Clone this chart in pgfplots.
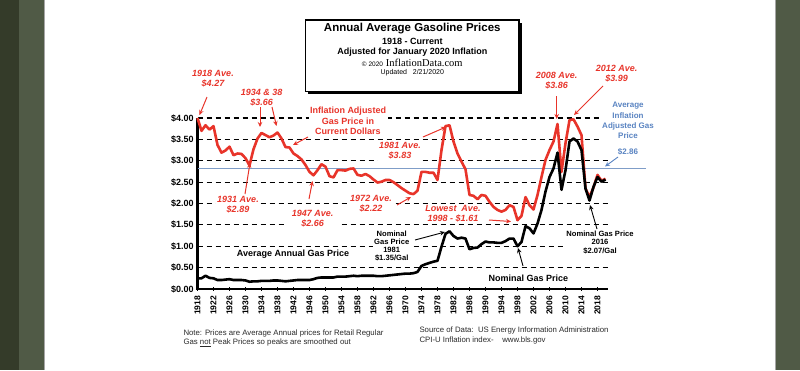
\documentclass[border=0pt]{standalone}
\usepackage{pgfplots}
\pgfplotsset{compat=1.18}
\usepackage{pgfplotstable}
\usetikzlibrary{arrows.meta}
\usepackage{fontspec}
\setmainfont{Liberation Sans}
\newfontfamily\seriffont{Liberation Serif}
\definecolor{gasred}{HTML}{E8342A}
\definecolor{avgblue}{HTML}{7F9DC8}
\definecolor{bluetext}{HTML}{5A84C2}
\definecolor{bgdark}{HTML}{343B29}
\definecolor{bgmid}{HTML}{505A46}
\definecolor{foot}{HTML}{2A2A2A}
\newcommand{\fs}[2]{\fontsize{#1}{#2}\selectfont}

\pgfplotstableread{
year price
1918 4.00
1919 3.70
1920 3.83
1921 3.73
1922 3.81
1923 3.37
1924 3.19
1925 3.24
1926 3.33
1927 3.13
1928 3.17
1929 3.16
1930 3.06
1931 2.89
1932 3.27
1933 3.52
1934 3.65
1935 3.60
1936 3.55
1937 3.59
1938 3.66
1939 3.52
1940 3.32
1941 3.31
1942 3.17
1943 3.11
1944 3.03
1945 2.90
1946 2.74
1947 2.66
1948 2.78
1949 2.92
1950 2.86
1951 2.64
1952 2.61
1953 2.78
1954 2.78
1955 2.77
1956 2.81
1957 2.82
1958 2.67
1959 2.65
1960 2.69
1961 2.64
1962 2.56
1963 2.49
1964 2.51
1965 2.55
1966 2.55
1967 2.50
1968 2.43
1969 2.36
1970 2.30
1971 2.24
1972 2.22
1973 2.30
1974 2.74
1975 2.74
1976 2.72
1977 2.72
1978 2.55
1979 3.25
1980 3.81
1981 3.83
1982 3.45
1983 3.17
1984 2.98
1985 2.80
1986 2.20
1987 2.18
1988 2.10
1989 2.20
1990 2.18
1991 2.04
1992 1.92
1993 1.85
1994 1.81
1995 1.85
1996 1.96
1997 1.92
1998 1.61
1999 1.71
2000 2.15
2001 1.96
2002 1.86
2003 2.20
2004 2.62
2005 3.02
2006 3.25
2007 3.45
2008 3.86
2009 2.74
2010 3.41
2011 3.95
2012 3.97
2013 3.80
2014 3.60
2015 2.35
2016 2.15
2017 2.38
2018 2.67
2019 2.53
2020 2.58
}\realtable

\pgfplotstableread{
year price
1918 0.25
1919 0.25
1920 0.31
1921 0.26
1922 0.25
1923 0.21
1924 0.21
1925 0.22
1926 0.23
1927 0.21
1928 0.21
1929 0.21
1930 0.20
1931 0.17
1932 0.18
1933 0.18
1934 0.19
1935 0.19
1936 0.19
1937 0.20
1938 0.20
1939 0.19
1940 0.18
1941 0.19
1942 0.20
1943 0.21
1944 0.21
1945 0.21
1946 0.21
1947 0.23
1948 0.26
1949 0.27
1950 0.27
1951 0.27
1952 0.27
1953 0.29
1954 0.29
1955 0.29
1956 0.30
1957 0.31
1958 0.30
1959 0.31
1960 0.31
1961 0.31
1962 0.31
1963 0.30
1964 0.30
1965 0.31
1966 0.32
1967 0.33
1968 0.34
1969 0.35
1970 0.36
1971 0.36
1972 0.37
1973 0.40
1974 0.54
1975 0.58
1976 0.61
1977 0.64
1978 0.66
1979 0.99
1980 1.29
1981 1.35
1982 1.24
1983 1.18
1984 1.20
1985 1.18
1986 0.93
1987 0.96
1988 0.97
1989 1.05
1990 1.11
1991 1.09
1992 1.09
1993 1.08
1994 1.08
1995 1.12
1996 1.18
1997 1.18
1998 1.00
1999 1.10
2000 1.47
2001 1.42
2002 1.30
2003 1.53
2004 1.85
2005 2.28
2006 2.62
2007 2.82
2008 3.19
2009 2.32
2010 2.78
2011 3.45
2012 3.52
2013 3.45
2014 3.25
2015 2.35
2016 2.07
2017 2.39
2018 2.62
2019 2.51
2020 2.56
}\nomtable

\begin{document}
\begin{tikzpicture}
\begin{scope}[x=1pt,y=-1pt]
\useasboundingbox (0,0) rectangle (800,370);
\fill[white] (0,0) rectangle (800,370);
\fill[bgdark] (0,0) rectangle (19,370);
\fill[bgmid] (19,0) rectangle (43.5,370);
\fill[bgmid] (775,0) rectangle (800,370);
\draw[black!35, line width=0.6pt] (43.8,0) -- (43.8,370);
\draw[black!35, line width=0.6pt] (775.2,0) -- (775.2,370);
% title box
\fill[black] (308.2,22.5) rectangle (521.5,94.2);
\filldraw[fill=white, draw=black, line width=1.2pt] (305.7,20) rectangle (519,91.7);
\end{scope}

\begin{axis}[
  at={(197.5pt,-289pt)}, anchor=south west,
  scale only axis, width=410pt, height=171pt,
  xmin=1918, xmax=2020.5, ymin=0, ymax=4,
  axis lines=left,
  axis line style={-, line width=2.2pt, black},
  clip=false,
  xtick={1918,1922,...,2018},
  minor x tick num=3,
  ytick={0,0.5,1,1.5,2,2.5,3,3.5,4},
  ymajorgrids,
  grid style={black, line width=1.1pt, dash pattern=on 5.5pt off 3.5pt},
  /pgf/number format/assume math mode=true,
  xticklabel style={rotate=90, anchor=east, font=\bfseries\fs{8.5}{9}, inner sep=1pt},
  xticklabel shift=4pt,
  xticklabel={\pgfmathprintnumber[1000 sep={}]{\tick}},
  yticklabel={\$\pgfmathprintnumber[fixed,fixed zerofill,precision=2]{\tick}},
  yticklabel style={font=\bfseries\fs{9}{9}, inner sep=2pt},
  tick style={black, line width=1pt},
  major tick length=3.5pt, minor tick length=3pt,
  tick align=center,
]
\draw[avgblue, line width=1.6pt] (axis cs:1918,2.82) -- (axis cs:2030,2.82);
\addplot[gasred, line width=2.6pt, line join=round] table[x=year,y=price] {\realtable};
\addplot[black, line width=2.6pt, line join=round] table[x=year,y=price] {\nomtable};
\end{axis}

\begin{scope}[x=1pt,y=-1pt,
  ann/.style={text=gasred, font=\bfseries\itshape\fs{9}{10}, align=center, fill=white, inner sep=1.5pt},
  rar/.style={gasred, line width=1pt, -{Stealth[length=5pt,width=4.5pt]}},
  bar/.style={black, line width=0.9pt, -{Stealth[length=5pt,width=4.5pt]}},
  nom/.style={text=black, font=\bfseries\fs{7.6}{8.2}, align=center, fill=white, inner sep=1.5pt}]
% title
\node[font=\bfseries\fs{11.5}{12}] at (412.3,29) {Annual Average Gasoline Prices};
\node[font=\bfseries\fs{9}{9}] at (412.3,41) {1918 - Current};
\node[font=\bfseries\fs{9}{9}] at (412.3,52) {Adjusted for January 2020 Inflation};
\node[font=\fs{10.5}{11}] at (412.3,63) {{\fs{6.5}{7}\textcopyright{} 2020} {\seriffont InflationData.com}};
\node[font=\fs{7}{7}] at (412.3,73) {Updated\ \ \ 2/21/2020};
% red annotations
\node[ann] at (213,79) {1918 Ave.\\\$4.27};
\draw[rar] (207,97) -- (199.5,115);
\node[ann] at (261.7,98) {1934 \& 38\\\$3.66};
\draw[rar] (260,107) -- (260,127);
\draw[rar] (272,107) -- (276.5,126);
\node[text=gasred, font=\bfseries\fs{9}{10.7}, align=center, fill=white, inner sep=1.5pt] at (348,121) {Inflation Adjusted\\Gas Price in\\Current Dollars};
\draw[rar] (308,137) -- (293,145);
\node[ann, inner ysep=3pt] at (238,205) {1931 Ave.\\\$2.89};
\draw[rar] (245,194) -- (250,163);
\node[ann, inner ysep=3pt, inner xsep=6pt] at (312.7,219) {1947 Ave.\\\$2.66};
\draw[rar] (309,199) -- (312.5,181);
\node[ann, inner ysep=3pt] at (371,204) {1972 Ave.\\\$2.22};
\draw[rar] (397,205) -- (411,197);
\node[ann] at (400,151) {1981 Ave.\\\$3.83};
\draw[rar] (423,137) -- (446,127);
\node[ann] at (453,214) {Lowest\ \ Ave.\\1998 - \$1.61};
\draw[rar] (489,220) -- (511,221.5);
\node[ann] at (556.7,81) {2008 Ave.\\\$3.86};
\draw[rar] (556.7,96) -- (556.7,119);
\node[ann] at (616.7,74) {2012 Ave.\\\$3.99};
\draw[rar] (603,86) -- (574,115);
% blue annotation
\node[text=bluetext, font=\bfseries\fs{8}{10.3}, align=center, fill=white, inner sep=1pt] at (628,120.5) {Average\\Inflation\\Adjusted Gas\\Price};
\node[text=bluetext, font=\bfseries\fs{8}{10}, fill=white, inner sep=1pt] at (628,152) {\$2.86};
\draw[bluetext, line width=0.9pt, -{Stealth[length=5pt,width=4.5pt]}] (618,157) -- (605,166.5);
% black annotations
\node[font=\bfseries\fs{9}{10}, fill=white, inner sep=1.5pt] at (293,254) {Average Annual Gas Price};
\node[nom] at (391.7,246) {Nominal\\Gas Price\\1981\\\$1.35/Gal};
\draw[bar] (415,240) -- (445,232);
\node[font=\bfseries\fs{9}{10}, fill=white, inner sep=1.5pt] at (528.3,278.3) {Nominal Gas Price};
\draw[bar] (523,266) -- (518,248);
\node[nom] at (600,242.5) {Nominal Gas Price\\2016\\\$2.07/Gal};
\draw[bar] (597,229) -- (590,205);
% footer
\node[anchor=west, align=left, text=foot, font=\fs{7.8}{9.4}, inner sep=0pt] at (183.3,338) {Note: Prices are Average Annual prices for Retail Regular\\Gas \underline{not} Peak Prices so peaks are smoothed out};
\node[anchor=west, align=left, text=foot, font=\fs{7.8}{9.7}, inner sep=0pt] at (419.3,335.8) {Source of Data:\ \ US Energy Information Administration\\CPI-U Inflation index-\ \ \ \ www.bls.gov};
\end{scope}
\end{tikzpicture}
\end{document}
